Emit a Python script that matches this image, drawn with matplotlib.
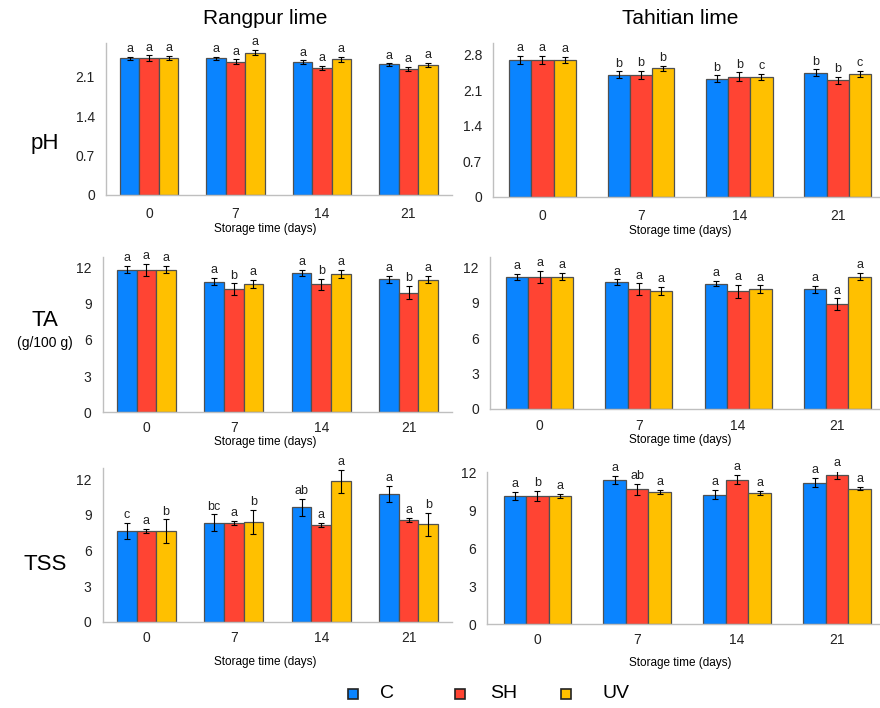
import numpy as np
import matplotlib.pyplot as plt

plt.rcParams['font.family'] = ['Liberation Sans', 'DejaVu Sans']

days = ['0', '7', '14', '21']
treatments = ['C', 'SH', 'UV']
colors = ['#0A84FF', '#FF4433', '#FFC000']

# rows = C, SH, UV ; columns = storage days
rang_ph = [[2.43, 2.43, 2.36, 2.32], [2.43, 2.37, 2.26, 2.24], [2.43, 2.53, 2.41, 2.31]]
rang_ph_err = [[0.03, 0.03, 0.03, 0.02], [0.05, 0.04, 0.04, 0.04], [0.04, 0.05, 0.04, 0.04]]
rang_ph_let = [['a', 'a', 'a', 'a'], ['a', 'a', 'a', 'a'], ['a', 'a', 'a', 'a']]

tahi_ph = [[2.70, 2.41, 2.33, 2.45], [2.70, 2.41, 2.37, 2.30], [2.70, 2.54, 2.37, 2.43]]
tahi_ph_err = [[0.08, 0.07, 0.07, 0.07], [0.08, 0.08, 0.09, 0.07], [0.06, 0.05, 0.06, 0.06]]
tahi_ph_let = [['a', 'b', 'b', 'b'], ['a', 'b', 'b', 'b'], ['a', 'b', 'c', 'c']]

rang_ta = [[11.83, 10.84, 11.53, 11.04], [11.83, 10.20, 10.62, 9.93], [11.83, 10.62, 11.45, 10.98]]
rang_ta_err = [[0.30, 0.28, 0.25, 0.28], [0.50, 0.48, 0.45, 0.55], [0.30, 0.35, 0.35, 0.30]]
rang_ta_let = [['a', 'a', 'a', 'a'], ['a', 'b', 'b', 'b'], ['a', 'a', 'a', 'a']]

tahi_ta = [[11.23, 10.75, 10.64, 10.16], [11.23, 10.16, 9.99, 8.89], [11.23, 10.04, 10.16, 11.23]]
tahi_ta_err = [[0.25, 0.25, 0.22, 0.30], [0.50, 0.50, 0.55, 0.50], [0.30, 0.35, 0.33, 0.30]]
tahi_ta_let = [['a', 'a', 'a', 'a'], ['a', 'a', 'a', 'a'], ['a', 'a', 'a', 'a']]

rang_tss = [[7.64, 8.34, 9.64, 10.73], [7.64, 8.34, 8.15, 8.54], [7.64, 8.40, 11.83, 8.20]]
rang_tss_err = [[0.67, 0.70, 0.70, 0.69], [0.15, 0.18, 0.20, 0.18], [0.97, 1.00, 0.98, 0.95]]
rang_tss_let = [['c', 'bc', 'ab', 'a'], ['a', 'a', 'a', 'a'], ['b', 'b', 'a', 'b']]

tahi_tss = [[10.15, 11.42, 10.28, 11.23], [10.15, 10.70, 11.47, 11.84], [10.15, 10.47, 10.41, 10.76]]
tahi_tss_err = [[0.32, 0.32, 0.34, 0.34], [0.40, 0.42, 0.38, 0.29], [0.16, 0.17, 0.16, 0.10]]
tahi_tss_let = [['a', 'a', 'a', 'a'], ['b', 'ab', 'a', 'a'], ['a', 'a', 'a', 'a']]

ph_ticks = [0, 0.7, 1.4, 2.1, 2.8]
ta_ticks = [0, 3, 6, 9, 12]

W, H = 880, 708
fig = plt.figure(figsize=(W / 100, H / 100), dpi=100)


def px_axes(l, t, r, b):
    return fig.add_axes([l / W, 1 - b / H, (r - l) / W, (b - t) / H])


def panel(box, xlim, ylim, yticks, means, errs, letters, off, xpad):
    ax = px_axes(*box)
    x = np.arange(len(days))
    w = 0.225
    for i in range(3):
        xi = x + (i - 1) * w
        ax.bar(xi, means[i], w, color=colors[i], edgecolor='#505050', lw=0.9, zorder=2)
        ax.errorbar(xi, means[i], yerr=errs[i], fmt='none', ecolor='black',
                    elinewidth=0.8, capsize=2, capthick=0.8, zorder=3)
        for j in range(len(days)):
            ax.text(xi[j], means[i][j] + errs[i][j] + off, letters[i][j],
                    ha='center', va='bottom', fontsize=9, color='#222222')
    ax.set_xlim(*xlim)
    ax.set_ylim(*ylim)
    ax.set_xticks(x)
    ax.set_xticklabels(days)
    ax.set_yticks([v for v in yticks if v <= ylim[1]])
    ax.set_yticklabels([('%g' % v) for v in yticks if v <= ylim[1]])
    ax.tick_params(length=0, labelsize=10, colors='#222222')
    ax.tick_params(axis='x', pad=xpad)
    ax.tick_params(axis='y', pad=8)
    for s in ['top', 'right']:
        ax.spines[s].set_visible(False)
    for s in ['left', 'bottom']:
        ax.spines[s].set_color('#BFBFBF')
        ax.spines[s].set_linewidth(1.0)
    return ax


panel((106, 43, 451.6, 195), (-0.5, 3.5), (0, 2.7), ph_ticks, rang_ph, rang_ph_err, rang_ph_let, 0.03, 9)
panel((493.3, 43.3, 880, 196.7), (-0.5, 3.43), (0, 3.03), ph_ticks, tahi_ph, tahi_ph_err, tahi_ph_let, 0.03, 9)
panel((102.7, 256.7, 452.3, 412.3), (-0.5, 3.5), (0, 12.9), ta_ticks, rang_ta, rang_ta_err, rang_ta_let, 0.15, 6.5)
panel((490, 256.7, 880, 409), (-0.5, 3.43), (0, 12.93), ta_ticks, tahi_ta, tahi_ta_err, tahi_ta_let, 0.15, 7)
panel((102.7, 468.3, 452.3, 621.7), (-0.5, 3.5), (0, 12.92), ta_ticks, rang_tss, rang_tss_err, rang_tss_let, 0.15, 7)
panel((487.3, 471.7, 880, 624), (-0.5, 3.43), (0, 12.1), ta_ticks, tahi_tss, tahi_tss_err, tahi_tss_let, 0.15, 6.5)

# column titles
fig.text(265 / W, 1 - 18 / H, 'Rangpur lime', ha='center', va='center', fontsize=15)
fig.text(680 / W, 1 - 18 / H, 'Tahitian lime', ha='center', va='center', fontsize=15)

# row labels
fig.text(45 / W, 1 - 143 / H, 'pH', ha='center', va='center', fontsize=16)
fig.text(45 / W, 1 - 320 / H, 'TA', ha='center', va='center', fontsize=16)
fig.text(45 / W, 1 - 343 / H, '(g/100 g)', ha='center', va='center', fontsize=10)
fig.text(45 / W, 1 - 565 / H, 'TSS', ha='center', va='center', fontsize=16)

# x labels
for xc, yc in [(265, 229), (680, 231), (265, 442), (680, 440), (265, 662), (680, 663)]:
    fig.text(xc / W, 1 - yc / H, 'Storage time (days)', ha='center', va='center', fontsize=8.5)

# legend
for i, (sx, tx) in enumerate([(353, 380), (460, 490), (566, 602)]):
    fig.patches.append(plt.Rectangle(((sx - 5) / W, 1 - 699 / H), 10 / W, 10 / H,
                                     transform=fig.transFigure, facecolor=colors[i],
                                     edgecolor='#222222', lw=1.2))
    fig.text(tx / W, 1 - 694 / H, treatments[i], ha='left', va='center', fontsize=14)

fig.savefig('out.png', dpi=100)
